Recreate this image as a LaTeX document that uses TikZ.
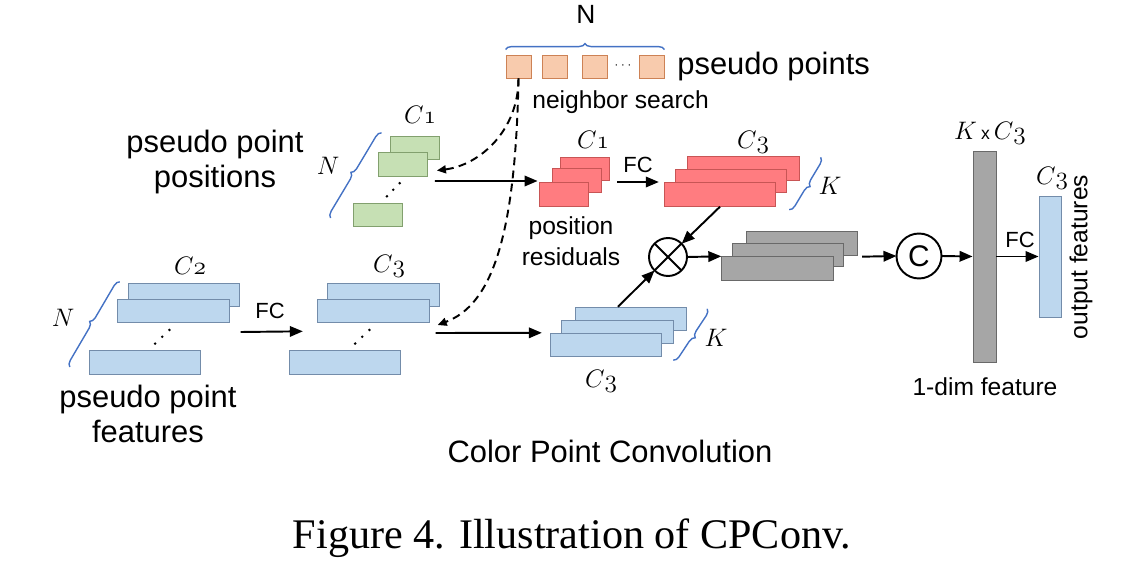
\documentclass[tikz,border=0pt]{standalone}
\usepackage{fontspec}
\setmainfont{Liberation Sans}
\newfontfamily\captionfont{Liberation Serif}
\usepackage{tikz}
\usetikzlibrary{arrows.meta,calc,decorations.pathreplacing}
\definecolor{greenfill}{RGB}{198,224,180}
\definecolor{greenedge}{RGB}{130,160,110}
\definecolor{orangefill}{RGB}{248,203,173}
\definecolor{orangeedge}{RGB}{205,130,85}
\definecolor{redfill}{RGB}{255,124,128}
\definecolor{rededge}{RGB}{200,85,85}
\definecolor{bluefill}{RGB}{189,215,238}
\definecolor{blueedge}{RGB}{115,140,170}
\definecolor{grayfill}{RGB}{166,166,166}
\definecolor{grayedge}{RGB}{105,105,105}
\definecolor{bracecol}{RGB}{68,114,196}
\newcommand{\chn}[1]{$C\mathnormal{#1}$}
\tikzset{
  shortbox/.style={rectangle,line width=0.5pt,inner sep=0pt,
    minimum width=0.98cm,minimum height=0.47cm},
  longbox/.style={rectangle,line width=0.5pt,inner sep=0pt,
    minimum width=2.23cm,minimum height=0.47cm},
  greenbox/.style={shortbox,draw=greenedge,fill=greenfill},
  redbox/.style={shortbox,draw=rededge,fill=redfill},
  bigred/.style={longbox,draw=rededge,fill=redfill},
  bluebox/.style={longbox,draw=blueedge,fill=bluefill},
  graybox/.style={longbox,draw=grayedge,fill=grayfill},
  pointbox/.style={rectangle,draw=orangeedge,fill=orangefill,line width=0.5pt,
    inner sep=0pt,minimum width=0.5cm,minimum height=0.46cm},
  biglabel/.style={font=\fontsize{17.6}{20.4}\selectfont,align=center,inner sep=0pt},
  smalllabel/.style={font=\fontsize{14}{17.9}\selectfont,align=center,inner sep=0pt},
  fclabel/.style={font=\fontsize{12.5}{14}\selectfont,inner sep=0pt},
  chlabel/.style={font=\fontsize{14}{16}\selectfont,inner sep=0pt},
  opnode/.style={circle,draw,line width=1.1pt,inner sep=0pt,outer sep=0pt},
  arr/.style={-{Triangle[length=2.6mm,width=2.1mm]},line width=1.1pt},
  dasharr/.style={-{Triangle[length=1.8mm,width=1.6mm]},line width=1.1pt,
    dash pattern=on 4.5pt off 3pt},
  bracket/.style={draw=bracecol,line width=0.8pt,
    decorate,decoration={brace,amplitude=0.12cm}}
}

\begin{document}
\begin{tikzpicture}[x=0.02cm,y=-0.02cm]
  \useasboundingbox (0,0) rectangle (1144,581);

  % pseudo points
  \node[pointbox] (sq1) at (518.5,66.5) {};
  \node[pointbox] (sq2) at (554.5,66.5) {};
  \node[pointbox] (sq3) at (594.5,66.5) {};
  \node[inner sep=0pt,font=\scriptsize] (sqdots) at (623,66) {$\cdots$};
  \node[pointbox] (sq4) at (651.5,66.5) {};
  \draw[bracket] ($(sq1.north west)+(0,-5)$) -- ($(sq4.north east)+(0,-5)$);
  \node[inner sep=0pt,font=\fontsize{15}{17}\selectfont] (nlab) at (586,14) {N};
  \node[biglabel,anchor=base west] (ptslabel) at (677,75) {pseudo points};
  \node[smalllabel,anchor=base west] (searchlabel) at (532,109) {neighbor search};

  % positions
  \node[greenbox] (g1) at (414.5,148) {};
  \node[greenbox] (g2) at (403,164.5) {};
  \node[greenbox] (g3) at (377.5,215) {};
  \foreach \t in {0.25,0.5,0.75}
    \fill ($(g3.north)!\t!(g2.south)+(3,0)$) circle (0.8pt);
  \draw[bracket] ($(g3.west)+(-22,3)$) -- ($(g1.north west)+(-8,-3)$);
  \node[chlabel] (ngreen) at (328,166) {$N$};
  \node[chlabel] (c1green) at (420,115) {\chn{1}};
  \node[biglabel] (poslabel) at (215,162) {pseudo point\\positions};

  % features
  \node[bluebox] (b1) at (184,295) {};
  \node[bluebox] (b2) at (173.5,311) {};
  \node[bluebox] (b3) at (145,362.5) {};
  \foreach \t in {0.25,0.5,0.75}
    \fill ($(b3.north)!\t!(b2.south)+(3,0)$) circle (0.8pt);
  \draw[bracket] ($(b3.west)+(-19,4.5)$) -- ($(b1.north west)+(-8,-1)$);
  \node[chlabel] (nblue) at (63,318) {$N$};
  \node[chlabel] (c2blue) at (190,266) {\chn{2}};
  \node[biglabel] (featlabel) at (148,414) {pseudo point\\features};

  \node[bluebox] (m1) at (383.5,295) {};
  \node[bluebox] (m2) at (373.5,311) {};
  \node[bluebox] (m3) at (345,362.5) {};
  \foreach \t in {0.25,0.5,0.75}
    \fill ($(m3.north)!\t!(m2.south)+(3,0)$) circle (0.8pt);
  \node[chlabel] (c3mid) at (389,266) {\chn{3}};
  \draw[arr] ($(b2.east)+(11,21)$) -- ($(m3.north west)+(14,-19)$);
  \node[fclabel] (fc1) at (270,311) {FC};

  % residuals
  \node[redbox] (r1) at (584.5,169) {};
  \node[redbox] (r2) at (576.5,180.5) {};
  \node[redbox] (r3) at (563.5,194.5) {};
  \node[chlabel] (c1red) at (593,140) {\chn{1}};
  \node[smalllabel] (reslabel) at (571,241) {position\\residuals};

  \node[bigred] (R1) at (743.5,168.5) {};
  \node[bigred] (R2) at (731,181) {};
  \node[bigred] (R3) at (720,194.5) {};
  \node[chlabel] (c3red) at (753,142) {\chn{3}};
  \draw[bracket] ($(R1.north east)+(21,1)$) -- ($(R3.south east)+(13,3)$);
  \node[chlabel] (kred) at (830,186) {$K$};
  \draw[arr] ($(r1.east)+(8,13)$) -- ($(R3.west)+(-5,-12.5)$);
  \node[fclabel] (fc2) at (638,165) {FC};

  % grouped features
  \node[bluebox] (k1) at (631,319) {};
  \node[bluebox] (k2) at (617.5,332) {};
  \node[bluebox] (k3) at (606,345) {};
  \draw[bracket] ($(k1.north east)+(20,2)$) -- ($(k3.south east)+(11,3)$);
  \node[chlabel] (kblue) at (716,338) {$K$};
  \node[chlabel] (c3low) at (601,381) {\chn{3}};

  % neighbor search
  \draw[dasharr] (sq1.south) .. controls ($(sq1.south)+(0,52)$)
    and ($(g2.east)+(52,0.5)$) .. ($(g2.east)+(9,6)$);
  \draw[dasharr] (sq1.south) .. controls ($(sq1.south)+(-3,162)$)
    and ($(m2.east)+(61,-6)$) .. ($(m2.east)+(8,14)$);
  \draw[arr] ($(g2.east)+(7,16.5)$) -- ($(r3.west)+(-1,-13.5)$);
  \draw[arr] ($(m2.east)+(6,22)$) -- ($(k3.north west)+(-8,0)$);

  % product and concat
  \node[opnode,minimum size=0.76cm] (ot) at (668,257) {};
  \draw[line width=1.1pt] (ot.north west) -- (ot.south east)
    (ot.north east) -- (ot.south west);
  \draw[arr] (R3.south) -- (ot);
  \draw[arr] ($(k1.north)+(-13,0)$) -- (ot);

  \node[graybox] (G1) at (802,243.5) {};
  \node[graybox] (G2) at (788,255) {};
  \node[graybox] (G3) at (777.5,268.5) {};
  \draw[arr] (ot.east) -- (G3.north west);

  \node[opnode,minimum size=0.9cm,font=\fontsize{17}{19}\selectfont] (cc) at (919,256) {C};
  \draw[arr] ($(G1.south east)+(4,1)$) -- (cc.west);

  % output
  \node[rectangle,draw=grayedge,fill=grayfill,line width=0.5pt,inner sep=0pt,
    minimum width=0.46cm,minimum height=4.22cm] (bar) at (984.5,256.5) {};
  \node[chlabel] (kc3) at (990,133) {$K$\,{\fontsize{10}{12}\selectfont x}\,\chn{3}};
  \node[smalllabel,anchor=base] (dimlabel) at (985,395) {1-dim feature};
  \draw[arr] (cc.east) -- (bar.west);

  \node[rectangle,draw=blueedge,fill=bluefill,line width=0.5pt,inner sep=0pt,
    minimum width=0.44cm,minimum height=2.42cm] (out) at (1050,256.5) {};
  \node[chlabel] (c3out) at (1052,178) {\chn{3}};
  \node[smalllabel,rotate=90] (outlabel) at (1081,257) {output features};
  \draw[arr] (bar.east) -- (out.west);
  \node[fclabel] (fc3) at (1020,240) {FC};

  \node[biglabel,anchor=base] (title) at (610,462) {Color Point Convolution};
  \node[anchor=base,inner sep=0pt,font=\captionfont\fontsize{24}{28}\selectfont]
    (caption) at (572,548) {Figure 4. Illustration of CPConv.};
\end{tikzpicture}
\end{document}
